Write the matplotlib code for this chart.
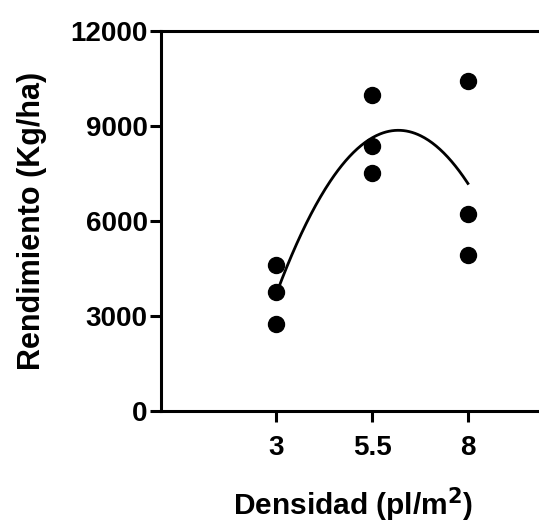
import numpy as np
import matplotlib.pyplot as plt

plt.rcParams['font.family'] = ['Liberation Sans', 'DejaVu Sans']
plt.rcParams['font.weight'] = 'bold'

# Datos
densidad = [3, 3, 3, 5.5, 5.5, 5.5, 8, 8, 8]
rendimiento = [4600, 3760, 2760, 9990, 8360, 7530, 10410, 6230, 4920]

x_ticks = [3, 5.5, 8]
x_tick_labels = ["3", "5.5", "8"]
y_ticks = [0, 3000, 6000, 9000, 12000]

# Ajuste cuadratico
coef = np.polyfit(densidad, rendimiento, 2)
x_fit = np.linspace(3, 8, 200)
y_fit = np.polyval(coef, x_fit)

fig = plt.figure(figsize=(5.39, 5.24), dpi=100)
ax = fig.add_axes([0.2996, 0.2156, 0.7106, 0.7252])

ax.plot(x_fit, y_fit, color="black", lw=2.0)
ax.plot(densidad, rendimiento, "o", color="black", markersize=11.5)

ax.set_xlim(0, 10)
ax.set_ylim(0, 12000)
ax.set_xticks(x_ticks)
ax.set_xticklabels(x_tick_labels)
ax.set_yticks(y_ticks)

for s in ["left", "bottom", "top"]:
    ax.spines[s].set_linewidth(2.2)
ax.spines["right"].set_visible(False)

ax.tick_params(axis="both", width=2.2, length=8, labelsize=20)
ax.tick_params(axis="y", pad=2)
ax.tick_params(axis="x", pad=9)
for lbl in ax.get_xticklabels() + ax.get_yticklabels():
    lbl.set_fontweight("bold")

ax.set_ylabel("Rendimiento (Kg/ha)", fontsize=22, fontweight="bold", labelpad=17)
ax.set_xlabel("Densidad (pl/m$^\\mathbf{2}$)", fontsize=21.5, fontweight="bold", labelpad=18)

fig.savefig("out.png", dpi=100)
